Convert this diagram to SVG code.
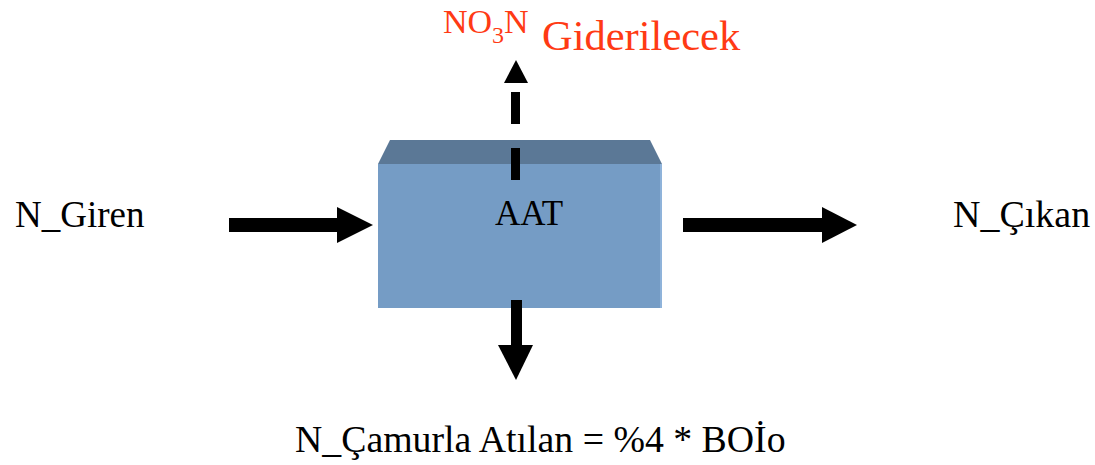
<svg xmlns="http://www.w3.org/2000/svg" width="1095" height="465" viewBox="0 0 1095 465">
<style>
text{font-family:"Liberation Serif","Times New Roman",serif;fill:#000}
.lbl{font-size:37px}
.red{fill:#FF3A14}
.arrow{fill:#000}
</style>
<rect width="1095" height="465" fill="#fff"/>
<g id="aat">
<polygon points="390,140 650,140 662,164 378,164" fill="#5B7896"/>
<rect x="378" y="164" width="284" height="144" fill="#759CC5"/>
<rect x="660" y="164" width="2" height="144" fill="#8FB3DA"/>
<text x="529" y="225" text-anchor="middle" font-size="35">AAT</text>
</g>
<g id="connectors">
<rect class="arrow" x="229" y="218" width="109" height="14"/>
<polygon class="arrow" points="337,207 373,225 337,243"/>
<rect class="arrow" x="683" y="218" width="140" height="14"/>
<polygon class="arrow" points="822,207 857,225 822,243"/>
<rect class="arrow" x="511" y="300" width="11" height="46"/>
<polygon class="arrow" points="498,345 533,345 516,380"/>
<rect class="arrow" x="511" y="148" width="9" height="32"/>
<rect class="arrow" x="511" y="92" width="9" height="32"/>
<polygon class="arrow" points="504,83 528,83 516,60"/>
</g>
<g id="n-giren"><text class="lbl" x="15" y="227">N_Giren</text></g>
<g id="n-cikan"><text x="953" y="227" font-size="38">N_Çıkan</text></g>
<g id="n-camur"><text x="295" y="452" font-size="37.8">N_Çamurla Atılan = %4 * BOİo</text></g>
<g id="no3n">
<text class="red" x="443" y="33" font-size="34">NO<tspan font-size="24" dy="10">3</tspan><tspan dy="-10">N</tspan></text>
<text class="red" x="542" y="50" font-size="42.5">Giderilecek</text>
</g>
</svg>
